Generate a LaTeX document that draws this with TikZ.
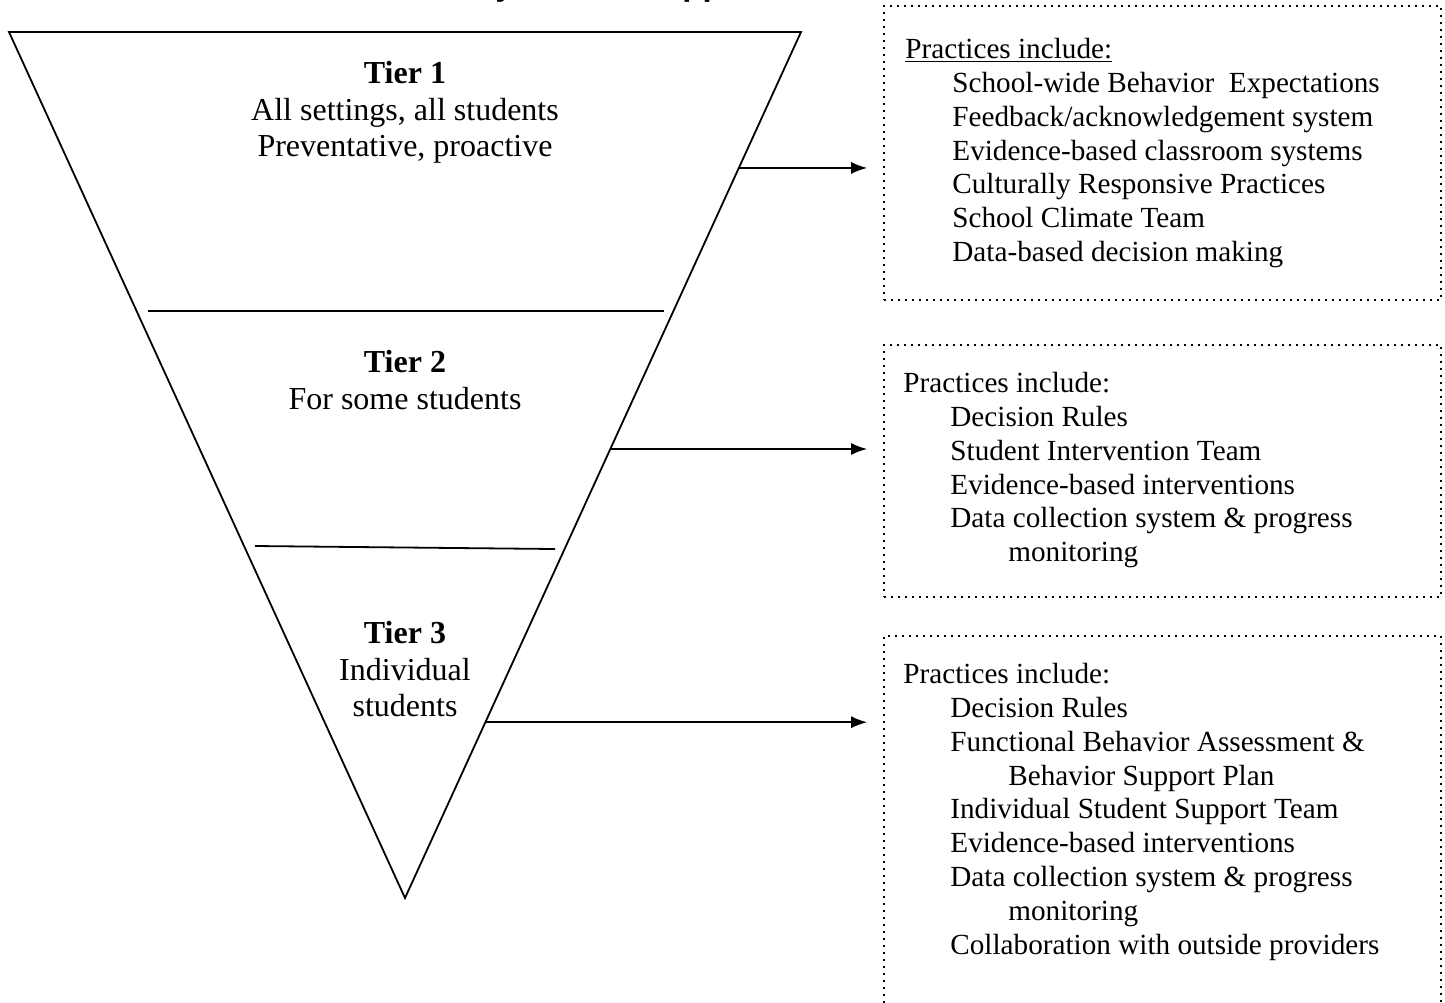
\documentclass[tikz,border=0pt]{standalone}
\usepackage{fontspec}
\setmainfont{Liberation Serif}
\newfontfamily\headfont{Liberation Sans}
\usetikzlibrary{arrows.meta,calc,fit}

\tikzset{
  tierline/.style={draw=black, line width=0.9pt},
  tiertext/.style={align=center, inner sep=0pt, anchor=north, font=\fontsize{16}{18.2}\selectfont},
  practbox/.style={draw=black, line width=0.8pt, dash pattern=on 0.8pt off 2.7pt, inner sep=0pt},
  practtext/.style={align=left, inner sep=0pt, anchor=north west, font=\fontsize{14.6}{16.9}\selectfont},
  tierarrow/.style={draw=black, line width=0.9pt, -{Latex[length=8pt,width=6pt]}, shorten >=8pt}
}
\newcommand{\practind}{\hspace*{23.5pt}}
\newcommand{\practwrap}{\hspace*{52.5pt}}

\begin{document}
\begin{tikzpicture}[x=0.5pt,y=-0.5pt]
\useasboundingbox (0,0) rectangle (1445,1002);

% title, cut off by the top edge
\node[anchor=base west, inner sep=0pt, font=\headfont\bfseries\fontsize{16.5}{20}\selectfont] (title) at (473,-5) {\llap{Multi-Tiered }System of Supports};

% the inverted triangle
\coordinate (tl) at (9,32);
\coordinate (tr) at (801,32);
\coordinate (apex) at (405,898);
\draw[tierline, line join=miter] (tl) -- (tr) -- (apex) -- cycle;
\draw[tierline, line width=1.2pt] (tl) -- (tr);

\coordinate (d1l) at (148,311);
\coordinate (d1r) at (664,311);
\coordinate (d2l) at (255,546);
\coordinate (d2r) at (555,549);
\draw[tierline] (d1l) -- (d1r);
\draw[tierline] (d2l) -- (d2r);

\node[tiertext] (tier1) at (405,61) {\textbf{Tier 1}\\All settings, all students\\Preventative, proactive};
\node[tiertext] (tier2) at (405,350) {\textbf{Tier 2}\\For some students};
\node[tiertext] (tier3) at (405,621) {\textbf{Tier 3}\\Individual\\students};

% practice boxes
\node[practbox, fit={(884,6) (1441,300)}] (box1) {};
\node[practbox, fit={(884,345) (1441,597)}] (box2) {};
\node[practbox, fit={(884,636) (1441,1012)}] (box3) {};

\node[practtext] (list1) at (905,38) {\underline{Practices include:}\\
\practind School-wide Behavior\ \ Expectations\\
\practind Feedback/acknowledgement system\\
\practind Evidence-based classroom systems\\
\practind Culturally Responsive Practices\\
\practind School Climate Team\\
\practind Data-based decision making};

\node[practtext] (list2) at (903,372) {Practices include:\\
\practind Decision Rules\\
\practind Student Intervention Team\\
\practind Evidence-based interventions\\
\practind Data collection system \& progress\\
\practwrap monitoring};

\node[practtext] (list3) at (903,663) {Practices include:\\
\practind Decision Rules\\
\practind Functional Behavior Assessment \&\\
\practwrap Behavior Support Plan\\
\practind Individual Student Support Team\\
\practind Evidence-based interventions\\
\practind Data collection system \& progress\\
\practwrap monitoring\\
\practind Collaboration with outside providers};

% arrows from the tiers to their boxes
\coordinate (t1) at ($(tr)!0.157!(apex)$);
\coordinate (t2) at ($(tr)!0.4815!(apex)$);
\coordinate (t3) at ($(tr)!0.797!(apex)$);
\draw[tierarrow] (t1) -- (t1 -| box1.west);
\draw[tierarrow] (t2) -- (t2 -| box2.west);
\draw[tierarrow] (t3) -- (t3 -| box3.west);
\end{tikzpicture}
\end{document}
